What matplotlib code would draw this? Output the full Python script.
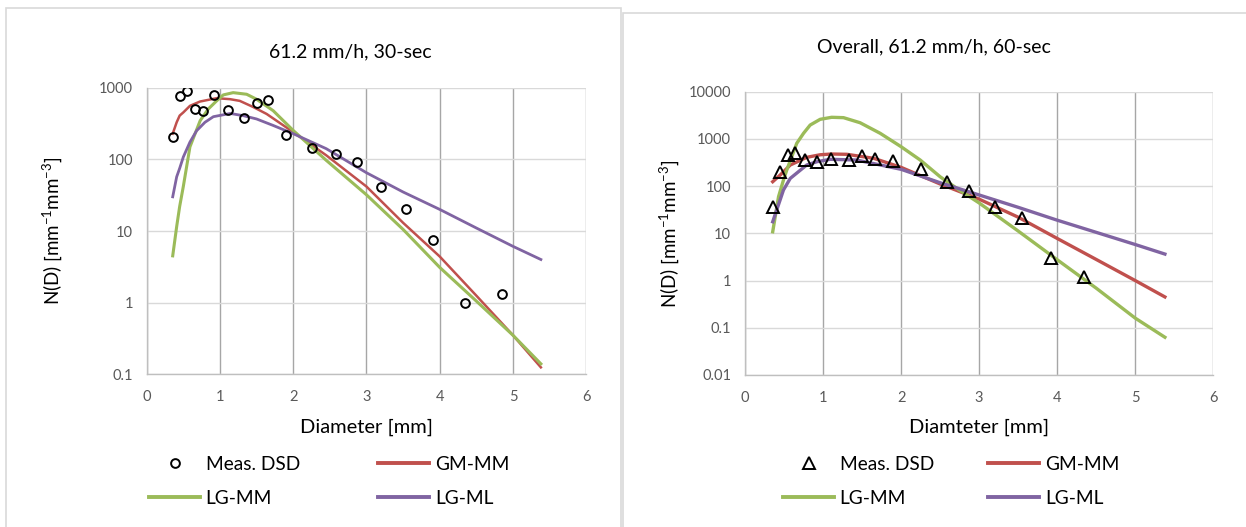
import matplotlib
matplotlib.use("Agg")
import matplotlib.pyplot as plt
from matplotlib.patches import Rectangle

plt.rcParams['font.family'] = ['Lato', 'DejaVu Sans']

# ---- left panel: 61.2 mm/h, 30-sec ----
dMeasL = [0.355, 0.449, 0.545, 0.655, 0.77, 0.915, 1.105, 1.325, 1.50, 1.66,
          1.905, 2.255, 2.583, 2.865, 3.195, 3.543, 3.914, 4.347, 4.85]
nMeasL = [207, 755, 907, 507, 479, 789, 496, 375, 610, 664,
          221, 145, 117, 91, 41.5, 20.6, 7.6, 1.0, 1.3]

dGmL = [0.355, 0.409, 0.45, 0.5, 0.59, 0.727, 0.955, 1.136, 1.27, 1.45, 1.637, 2.0, 2.45,
        3.0, 3.5, 4.0, 4.5, 5.0, 5.38]
nGmL = [228, 329, 408, 452, 558, 641, 714, 692, 655, 540, 430, 240, 114,
        41.7, 13, 4.4, 1.25, 0.35, 0.125]

dLgmmL = [0.355, 0.41, 0.45, 0.5, 0.59, 0.73, 0.84, 0.955, 1.045, 1.18, 1.364, 1.5, 1.727,
          2.0, 2.45, 3.0, 3.5, 4.0, 4.5, 5.0, 5.38]
nLgmmL = [4.5, 11.7, 22, 42, 149, 347, 504, 656, 793, 853, 810, 690, 477,
          253, 97, 32, 10.5, 3.1, 1.05, 0.35, 0.14]

dLgmlL = [0.355, 0.409, 0.45, 0.5, 0.59, 0.68, 0.795, 0.91, 1.14, 1.318, 1.5, 1.727,
          2.0, 2.45, 3.0, 3.5, 4.0, 4.5, 5.0, 5.38]
nLgmlL = [30, 57, 75, 108, 174, 250, 329, 394, 437, 407, 366, 297,
          228, 141, 65, 35, 20, 11, 6.1, 4.0]

# ---- right panel: overall, 60-sec ----
dMeasR = [0.355, 0.449, 0.545, 0.647, 0.775, 0.92, 1.10, 1.33, 1.505, 1.666,
          1.90, 2.26, 2.586, 2.87, 3.20, 3.545, 3.917, 4.344]
nMeasR = [37, 202, 456, 511, 357, 329, 375, 357, 434, 375,
          340, 227, 124, 80, 37, 20.8, 2.95, 1.2]

dGmR = [0.355, 0.451, 0.58, 0.79, 0.963, 1.11, 1.306, 1.65, 2.0, 2.5, 3.0, 3.5, 4.0, 4.5, 5.0, 5.38]
nGmR = [124, 172, 280, 407, 462, 479, 472, 388, 250, 111, 53, 22, 7.8, 2.8, 1.0, 0.45]

dLgmmR = [0.355, 0.43, 0.493, 0.535, 0.663, 0.75, 0.835, 0.963, 1.11, 1.262, 1.475, 1.732,
          2.0, 2.245, 2.5, 2.757, 3.0, 3.5, 4.0, 4.5, 5.0, 5.38]
nLgmmR = [10.8, 60, 135, 219, 807, 1315, 1967, 2600, 2870, 2820, 2200, 1315,
          684, 357, 158, 80, 44, 11.2, 2.76, 0.69, 0.16, 0.063]

dLgmlR = [0.355, 0.45, 0.493, 0.58, 0.79, 0.921, 1.09, 1.43, 2.0, 2.5, 3.0, 3.5, 4.0, 4.5, 5.0, 5.38]
nLgmlR = [17.6, 51, 83, 146, 280, 329, 370, 357, 227, 118, 65, 35.6, 19, 10.5, 5.8, 3.64]

yTicksL = [0.1, 1, 10, 100, 1000]
yTicksR = [0.01, 0.1, 1, 10, 100, 1000, 10000]
xTicks = [0, 1, 2, 3, 4, 5, 6]

RED = '#C0504D'
GREEN = '#9BBB59'
PURPLE = '#8064A2'

W, H = 1246, 527
fig = plt.figure(figsize=(W / 100, H / 100), dpi=100)

def px(x0, y0, x1, y1):
	# pixel box (top-left origin) -> figure fraction rect
	return [x0 / W, (H - y1) / H, (x1 - x0) / W, (y1 - y0) / H]

# chart area borders
fig.add_artist(Rectangle((6 / W, -0.01), (620.7 - 6) / W, (H - 8) / H + 0.01,
                         transform=fig.transFigure, fill=False,
                         edgecolor='#D9D9D9', lw=1.2))
fig.add_artist(Rectangle((622.7 / W, -0.01), 1.0, (H - 12.5) / H + 0.01,
                         transform=fig.transFigure, fill=False,
                         edgecolor='#D9D9D9', lw=1.2))

axL = fig.add_axes(px(146.7, 87.7, 586.3, 374.3))
axR = fig.add_axes(px(745, 91.7, 1213.3, 375))

def styleAx(ax, yTicks, xlab, labx, laby):
	ax.set_yscale('log')
	ax.set_xlim(0, 6)
	ax.set_ylim(yTicks[0], yTicks[-1])
	ax.set_xticks(xTicks)
	ax.set_yticks(yTicks)
	ax.set_yticklabels(['%g' % v for v in yTicks])
	ax.minorticks_off()
	ax.xaxis.grid(True, color='#A6A6A6', lw=1.0)
	ax.yaxis.grid(True, color='#D9D9D9', lw=1.0)
	ax.set_axisbelow(True)
	for s in ['top', 'right']:
		ax.spines[s].set_visible(False)
	for s in ['left', 'bottom']:
		ax.spines[s].set_color('#BFBFBF')
		ax.spines[s].set_linewidth(1.0)
	ax.tick_params(length=0, labelsize=10.5, labelcolor='#595959')
	ax.tick_params(axis='y', pad=10)
	ax.tick_params(axis='x', pad=11.5)
	ax.set_xlabel(xlab, fontsize=14.5, va='center')
	ax.xaxis.set_label_coords(0.5, laby)
	ax.set_ylabel(r'N(D) [mm$^{\mathregular{-1}}$mm$^{\mathregular{-3}}$]', fontsize=13.5, va='center')
	ax.yaxis.set_label_coords(labx, 0.5)

# left
axL.plot(dGmL, nGmL, color=RED, lw=1.8, label='GM-MM', zorder=3)
axL.plot(dLgmmL, nLgmmL, color=GREEN, lw=2.2, label='LG-MM', zorder=3)
axL.plot(dLgmlL, nLgmlL, color=PURPLE, lw=2.0, label='LG-ML', zorder=3)
axL.plot(dMeasL, nMeasL, 'o', ms=6.3, mfc='none', mec='black', mew=1.4,
         label='Meas. DSD', zorder=4)
styleAx(axL, yTicksL, 'Diameter [mm]', -0.213, (374.3 - 427.6) / 286.6)

# right
axR.plot(dGmR, nGmR, color=RED, lw=2.4, label='GM-MM', zorder=3)
axR.plot(dLgmmR, nLgmmR, color=GREEN, lw=2.4, label='LG-MM', zorder=3)
axR.plot(dLgmlR, nLgmlR, color=PURPLE, lw=2.4, label='LG-ML', zorder=3)
axR.plot(dMeasR, nMeasR, '^', ms=9, mfc='none', mec='black', mew=1.4,
         label='Meas. DSD', zorder=4)
styleAx(axR, yTicksR, 'Diamteter [mm]', -0.160, (375 - 427.6) / 283.3)

fig.text(350 / W, 1 - 52 / H, '61.2 mm/h, 30-sec', ha='center', va='center', fontsize=14)
fig.text(934 / W, 1 - 46.4 / H, 'Overall, 61.2 mm/h, 60-sec', ha='center', va='center', fontsize=14)

def addLegend(ax, cx, colsp):
	h, l = ax.get_legend_handles_labels()
	order = [3, 1, 0, 2]
	fs = 13.8
	fspx = fs * 100 / 72.0
	leg = ax.legend([h[i] for i in order], [l[i] for i in order], ncol=2,
	                loc='center', bbox_to_anchor=(cx / W, 1 - 481.5 / H),
	                bbox_transform=fig.transFigure, frameon=False, fontsize=fs,
	                handlelength=51.5 / fspx, handletextpad=5.4 / fspx,
	                columnspacing=colsp / fspx, labelspacing=0.88, borderpad=0)
	for ln in leg.get_lines():
		if ln.get_linestyle() != 'None':
			ln.set_linewidth(2.8)

addLegend(axL, 329, 78)
addLegend(axR, 951, 54)

fig.savefig('out.png', dpi=100)
